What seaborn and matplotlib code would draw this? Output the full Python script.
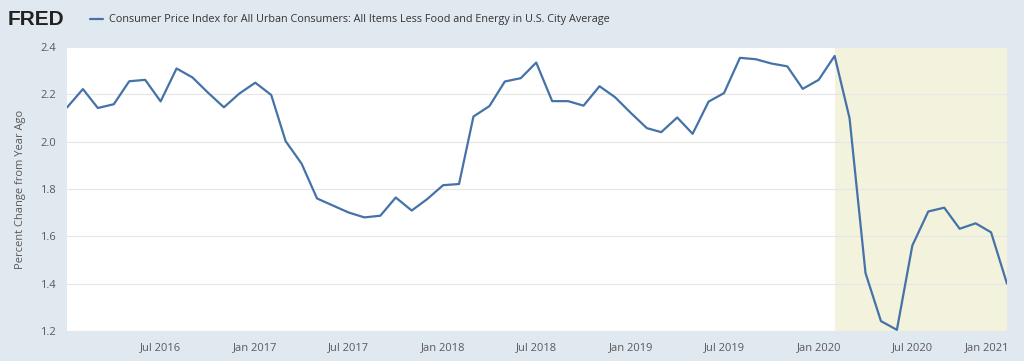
import pandas as pd
import matplotlib
matplotlib.use("Agg")
import matplotlib.pyplot as plt
import matplotlib.dates as mdates
import matplotlib.transforms as mtransforms
import seaborn as sns

# core CPI, percent change from year ago, monthly Jan 2016 - Jan 2021
START = "2016-01-01"
values = [
    2.144, 2.222, 2.142, 2.158, 2.255, 2.261, 2.170, 2.309, 2.271, 2.207, 2.145, 2.203,
    2.249, 2.197, 2.002, 1.907, 1.760, 1.730, 1.701, 1.680, 1.687, 1.764, 1.709, 1.757,
    1.816, 1.821, 2.106, 2.150, 2.254, 2.268, 2.334, 2.171, 2.171, 2.152, 2.234, 2.188,
    2.121, 2.057, 2.040, 2.102, 2.033, 2.169, 2.205, 2.354, 2.348, 2.330, 2.318, 2.223,
    2.261, 2.362, 2.099, 1.445, 1.242, 1.205, 1.561, 1.705, 1.721, 1.632, 1.655, 1.617,
    1.400,
]
recession_start = "2020-02-01"
recession_end = "2021-01-01"
series_name = ("Consumer Price Index for All Urban Consumers: "
               "All Items Less Food and Energy in U.S. City Average")
y_label = "Percent Change from Year Ago"
y_ticks = [1.2, 1.4, 1.6, 1.8, 2.0, 2.2, 2.4]

BG = "#e1e9f0"
LINE = "#4572a7"
SHADE = "#f3f2dc"
TXT = "#595959"

df = pd.DataFrame({
    "date": pd.date_range(START, periods=len(values), freq="MS"),
    "value": values,
})

sns.set_style("white")
plt.rcParams["font.family"] = ["Open Sans", "DejaVu Sans"]

fig = plt.figure(figsize=(10.24, 3.61), dpi=100, facecolor=BG)
ax = fig.add_axes([0.0654, 0.083, 0.918, 0.787])
ax.set_facecolor("white")

ax.axvspan(pd.Timestamp(recession_start), pd.Timestamp(recession_end),
           color=SHADE, lw=0, zorder=0)
sns.lineplot(data=df, x="date", y="value", ax=ax, color=LINE, lw=1.6,
             label=series_name, legend=False, zorder=3)

ax.set_xlim(df["date"].iloc[0], df["date"].iloc[-1])
ax.set_ylim(1.2, 2.4)
ax.set_yticks(y_ticks)
ax.set_yticklabels([f"{t:.1f}" for t in y_ticks])
ax.yaxis.grid(True, color="#e6e6e6", lw=0.8)
ax.set_axisbelow(True)

ax.xaxis.set_major_locator(mdates.MonthLocator(bymonth=[1, 7]))
ax.xaxis.set_major_formatter(mdates.DateFormatter("%b %Y"))
ticks = [t for t in ax.get_xticks() if t > mdates.date2num(df["date"].iloc[0])]
ax.set_xticks(ticks)

for s in ax.spines.values():
    s.set_visible(False)
ax.tick_params(axis="x", colors="#c0c8d0", length=5, width=0.8,
               labelcolor=TXT, labelsize=8, pad=3)
ax.tick_params(axis="y", length=0, labelcolor=TXT, labelsize=8, pad=8)
ax.set_xlabel("")
ax.set_ylabel(y_label, color=TXT, fontsize=8, labelpad=10)

# last label sits inside the plot edge, like FRED does
last = ax.get_xticklabels()[-1]
last.set_transform(last.get_transform() +
                   mtransforms.ScaledTranslation(-20 / 100, 0, fig.dpi_scale_trans))

fig.text(0.007, 0.945, "FRED", fontsize=15, fontweight="heavy",
         color="#222222", va="center", family=["Liberation Sans Narrow", "Liberation Sans"])
handles, labels = ax.get_legend_handles_labels()
fig.legend(handles, labels, loc="center left", bbox_to_anchor=(0.078, 0.945),
           frameon=False, fontsize=7.8, handlelength=1.2, handletextpad=0.6,
           labelcolor="#333333")

fig.savefig("out.png", dpi=100, facecolor=BG)
